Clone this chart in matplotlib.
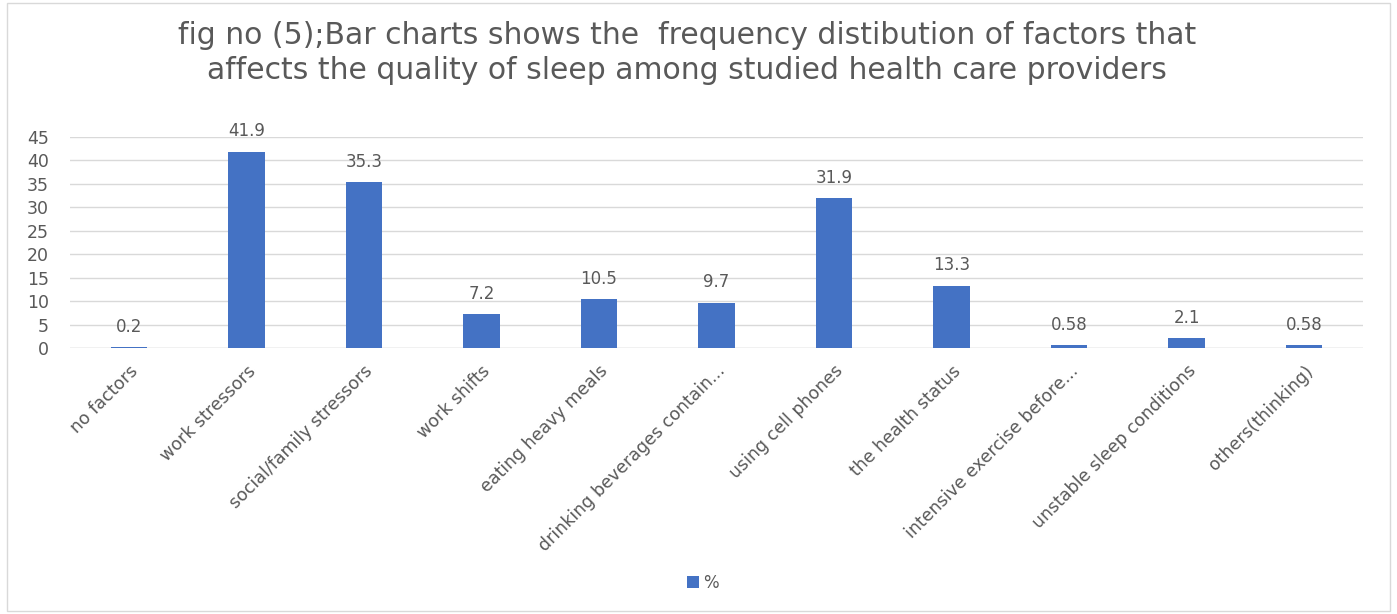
import matplotlib
matplotlib.use("Agg")
import matplotlib.pyplot as plt
from matplotlib.patches import Rectangle

categories = ["no factors", "work stressors", "social/family stressors", "work shifts",
              "eating heavy meals", "drinking beverages contain...", "using cell phones",
              "the health status", "intensive exercise before...", "unstable sleep conditions",
              "others(thinking)"]
values = [0.2, 41.9, 35.3, 7.2, 10.5, 9.7, 31.9, 13.3, 0.58, 2.1, 0.58]
labels = ["0.2", "41.9", "35.3", "7.2", "10.5", "9.7", "31.9", "13.3", "0.58", "2.1", "0.58"]
yticks = [0, 5, 10, 15, 20, 25, 30, 35, 40, 45]
title = ("fig no (5);Bar charts shows the  frequency distibution of factors that\n"
         "affects the quality of sleep among studied health care providers")

plt.rcParams['font.family'] = ['DejaVu Sans']
gray = '#595959'
fig = plt.figure(figsize=(13.97, 6.14), dpi=100)
ax = fig.add_axes([70/1397, 1-348/614, (1363-70)/1397, (348-137)/614])

x = list(range(len(categories)))
bars = ax.bar(x, values, width=0.31, color='#4472C4', label='%', zorder=3)
for xi, v, lab in zip(x, values, labels):
    ax.text(xi, v + 2.4, lab, ha='center', va='bottom', fontsize=12, color=gray)

ax.set_xlim(-0.5, len(categories) - 0.5)
ax.set_ylim(0, 45)
ax.set_yticks(yticks)
ax.set_xticks(x)
ax.set_xticklabels(categories, rotation=45, ha='right', rotation_mode='anchor',
                   fontsize=12.5, color=gray)
ax.tick_params(axis='y', labelsize=12.5, labelcolor=gray, length=0, pad=15)
ax.tick_params(axis='x', length=0, pad=10)
ax.grid(axis='y', color='#d9d9d9', linewidth=1, zorder=0)
for s in ax.spines.values():
    s.set_visible(False)
ax.axhline(0, color='#d9d9d9', linewidth=1, zorder=1)

fig.text(0.492, 1-53/614, title, ha='center', va='center', fontsize=21.5, color=gray,
         linespacing=1.3)

leg = fig.legend(loc='center', bbox_to_anchor=(0.503, 1-583/614), frameon=False,
                 fontsize=12, handlelength=0.75, handleheight=0.75, handletextpad=0.2)
for t in leg.get_texts():
    t.set_color(gray)

fig.patches.append(Rectangle((7/1397, 3/614), (1390-7)/1397, (611-3)/614,
                             transform=fig.transFigure, fill=False,
                             edgecolor='#d9d9d9', linewidth=1))
fig.savefig('out.png', dpi=100)
